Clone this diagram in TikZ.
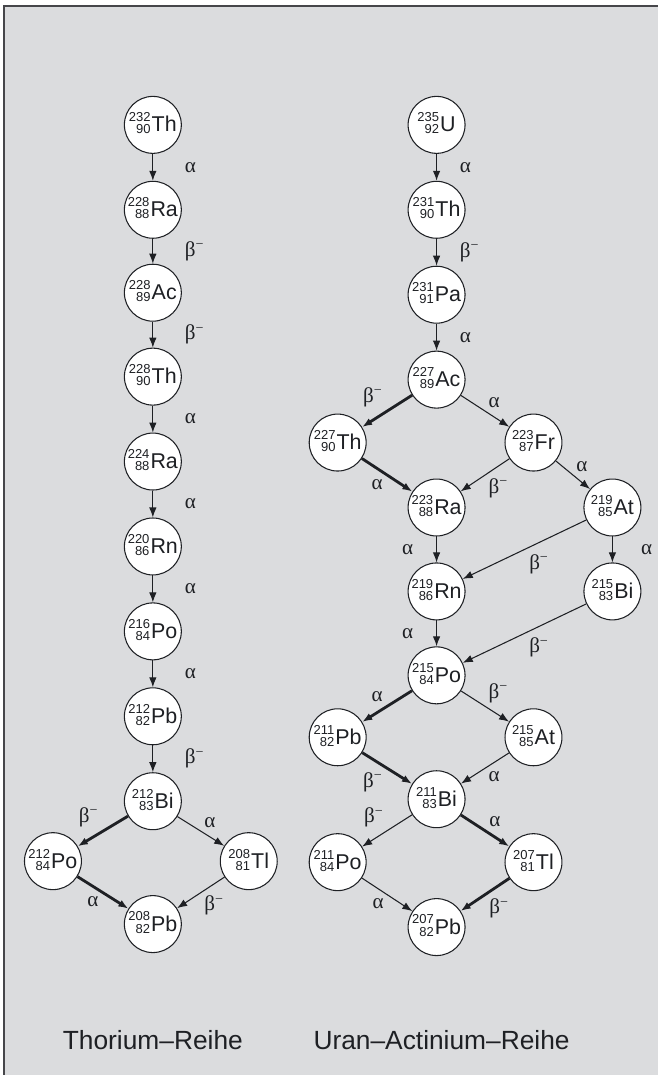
\documentclass[tikz,border=0pt]{standalone}
\usepackage{fontspec}
\setmainfont{Liberation Sans}
\newfontfamily\greekfont{Liberation Serif}
\usetikzlibrary{arrows.meta,positioning}
\definecolor{panel}{RGB}{219,220,222}
\definecolor{ink}{RGB}{30,32,36}
\definecolor{framegray}{RGB}{70,70,74}
% nuclide: mass number over atomic number, then symbol
\newcommand{\nuc}[3]{%
  \raisebox{2.3pt}{\fontsize{7.4}{7.4}\selectfont\renewcommand{\arraystretch}{0.8}%
    \begin{tabular}{@{}r@{}}#1\\#2\end{tabular}}%
  \kern0.6pt{\fontsize{12.2}{14}\selectfont #3}}
\newcommand{\al}{α}
\newcommand{\bm}{β\textsuperscript{−}}

\begin{document}
\begin{tikzpicture}[x=0.02cm,y=-0.02cm,>={Latex[length=2mm,width=1.5mm]},
  nucl/.style={draw=ink,circle,fill=white,line width=0.6pt,minimum size=1.14cm,inner sep=0pt,text=ink},
  decay/.style={->,ink,line width=0.6pt},
  strong/.style={->,ink,line width=1.6pt},
  lab/.style={text=ink,font=\greekfont\fontsize{12}{14}\selectfont,inner sep=1pt},
  title/.style={text=ink,font=\fontsize{15}{18}\selectfont}]
  % panel and frame
  \fill[white] (0,0) rectangle (659,1076);
  \fill[panel] (4,6) rectangle (659,1076);
  \draw[framegray,line width=1.2pt] (4,1076) -- (4,6) -- (659,6);

  % Thorium series
  \node[nucl] (th232) at (153,125) {\nuc{232}{90}{Th}};
  \node[nucl] (ra228) at (153,210) {\nuc{228}{88}{Ra}};
  \node[nucl] (ac228) at (153,293) {\nuc{228}{89}{Ac}};
  \node[nucl] (th228) at (153,377) {\nuc{228}{90}{Th}};
  \node[nucl] (ra224) at (153,462) {\nuc{224}{88}{Ra}};
  \node[nucl] (rn220) at (153,547) {\nuc{220}{86}{Rn}};
  \node[nucl] (po216) at (153,632) {\nuc{216}{84}{Po}};
  \node[nucl] (pb212) at (153,717) {\nuc{212}{82}{Pb}};
  \node[nucl] (bi212) at (153,802) {\nuc{212}{83}{Bi}};
  \node[nucl] (po212) at (53,862) {\nuc{212}{84}{Po}};
  \node[nucl] (tl208) at (249,862) {\nuc{208}{81}{Tl}};
  \node[nucl] (pb208) at (153,925) {\nuc{208}{82}{Pb}};

  \draw[decay] (th232) -- node[lab,right=17pt]{\al} (ra228);
  \draw[decay] (ra228) -- node[lab,right=17pt]{\bm} (ac228);
  \draw[decay] (ac228) -- node[lab,right=17pt]{\bm} (th228);
  \draw[decay] (th228) -- node[lab,right=17pt]{\al} (ra224);
  \draw[decay] (ra224) -- node[lab,right=17pt]{\al} (rn220);
  \draw[decay] (rn220) -- node[lab,right=17pt]{\al} (po216);
  \draw[decay] (po216) -- node[lab,right=17pt]{\al} (pb212);
  \draw[decay] (pb212) -- node[lab,right=17pt]{\bm} (bi212);
  \draw[strong] (bi212) -- node[lab,above left=1pt]{\bm} (po212);
  \draw[decay] (bi212) -- node[lab,above right=1pt]{\al} (tl208);
  \draw[strong] (po212) -- node[lab,below left=1pt]{\al} (pb208);
  \draw[decay] (tl208) -- node[lab,below right=1pt]{\bm} (pb208);

  % Uranium-actinium series
  \node[nucl] (u235) at (437,125) {\nuc{235}{92}{U}};
  \node[nucl] (th231) at (437,210) {\nuc{231}{90}{Th}};
  \node[nucl] (pa231) at (437,295) {\nuc{231}{91}{Pa}};
  \node[nucl] (ac227) at (437,380) {\nuc{227}{89}{Ac}};
  \node[nucl] (th227) at (338,443) {\nuc{227}{90}{Th}};
  \node[nucl] (fr223) at (534,443) {\nuc{223}{87}{Fr}};
  \node[nucl] (ra223) at (437,508) {\nuc{223}{88}{Ra}};
  \node[nucl] (at219) at (613,508) {\nuc{219}{85}{At}};
  \node[nucl] (rn219) at (437,592) {\nuc{219}{86}{Rn}};
  \node[nucl] (bi215) at (613,592) {\nuc{215}{83}{Bi}};
  \node[nucl] (po215) at (437,676) {\nuc{215}{84}{Po}};
  \node[nucl] (pb211) at (338,738) {\nuc{211}{82}{Pb}};
  \node[nucl] (at215) at (534,738) {\nuc{215}{85}{At}};
  \node[nucl] (bi211) at (437,800) {\nuc{211}{83}{Bi}};
  \node[nucl] (po211) at (338,863) {\nuc{211}{84}{Po}};
  \node[nucl] (tl207) at (534,863) {\nuc{207}{81}{Tl}};
  \node[nucl] (pb207) at (437,928) {\nuc{207}{82}{Pb}};

  \draw[decay] (u235) -- node[lab,right=12pt]{\al} (th231);
  \draw[decay] (th231) -- node[lab,right=12pt]{\bm} (pa231);
  \draw[decay] (pa231) -- node[lab,right=12pt]{\al} (ac227);
  \draw[strong] (ac227) -- node[lab,above left=1pt]{\bm} (th227);
  \draw[decay] (ac227) -- node[lab,above right=1pt]{\al} (fr223);
  \draw[strong] (th227) -- node[lab,below left=1pt]{\al} (ra223);
  \draw[decay] (fr223) -- node[lab,below right=1pt]{\bm} (ra223);
  \draw[decay] (fr223) -- node[lab,above right=1pt]{\al} (at219);
  \draw[decay] (ra223) -- node[lab,left=12pt]{\al} (rn219);
  \draw[decay] (at219) -- node[lab,below right=2pt]{\bm} (rn219);
  \draw[decay] (at219) -- node[lab,right=15pt]{\al} (bi215);
  \draw[decay] (rn219) -- node[lab,left=12pt]{\al} (po215);
  \draw[decay] (bi215) -- node[lab,below right=2pt]{\bm} (po215);
  \draw[strong] (po215) -- node[lab,above left=1pt]{\al} (pb211);
  \draw[decay] (po215) -- node[lab,above right=1pt]{\bm} (at215);
  \draw[strong] (pb211) -- node[lab,below left=1pt]{\bm} (bi211);
  \draw[decay] (at215) -- node[lab,below right=1pt]{\al} (bi211);
  \draw[decay] (bi211) -- node[lab,above left=1pt]{\bm} (po211);
  \draw[strong] (bi211) -- node[lab,above right=1pt]{\al} (tl207);
  \draw[decay] (po211) -- node[lab,below left=1pt]{\al} (pb207);
  \draw[strong] (tl207) -- node[lab,below right=1pt]{\bm} (pb207);

  % series names
  \node[title] (thname) at (153,1041) {Thorium--Reihe};
  \node[title] (uname) at (442,1041) {Uran--Actinium--Reihe};
\end{tikzpicture}
\end{document}
